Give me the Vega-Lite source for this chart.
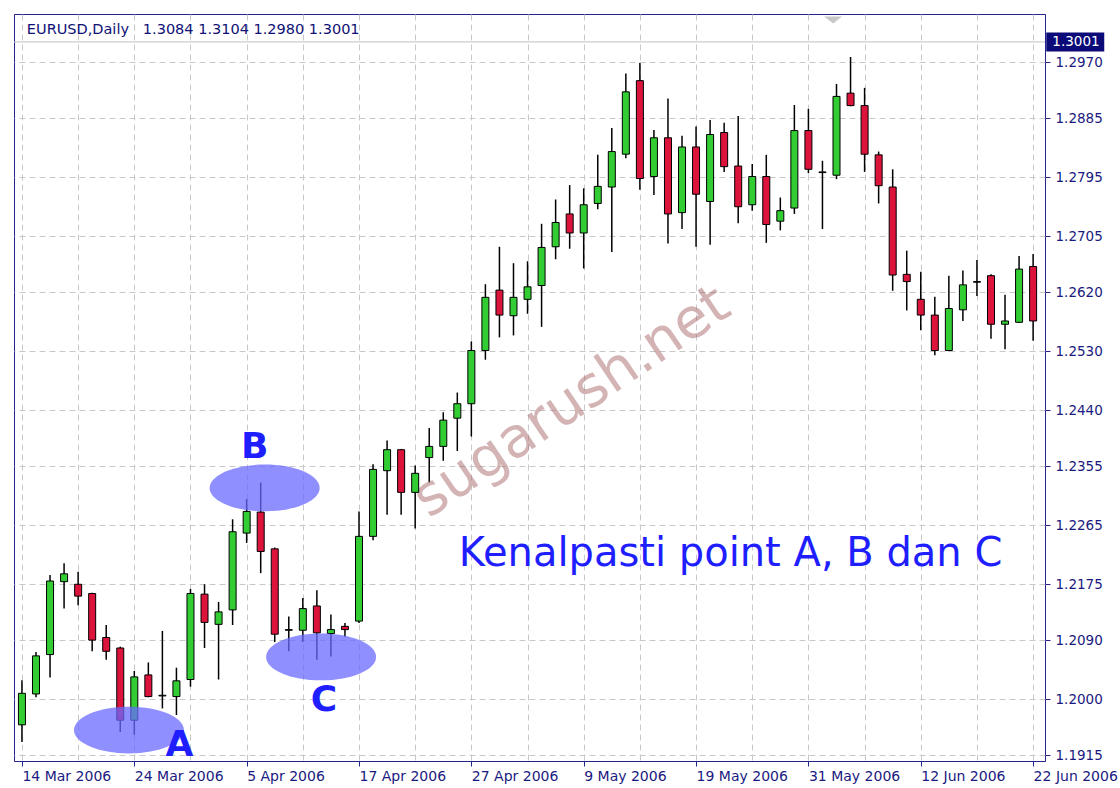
{
  "$schema": "https://vega.github.io/schema/vega-lite/v6.json",
  "width": 1031,
  "height": 747,
  "autosize": {"type": "none"},
  "padding": {"left": 14, "top": 14, "right": 75, "bottom": 27},
  "background": "#ffffff",
  "config": {
    "view": {"stroke": "#23238f", "strokeWidth": 1},
    "font": "DejaVu Sans"
  },
  "datasets": {
    "bars": [
      {"d": "2006-03-14", "i": 0, "o": 1.1961, "h": 1.2029, "l": 1.1935, "c": 1.2009},
      {"d": "2006-03-15", "i": 1, "o": 1.2008, "h": 1.2072, "l": 1.2003, "c": 1.2066},
      {"d": "2006-03-16", "i": 2, "o": 1.2068, "h": 1.2189, "l": 1.2033, "c": 1.2180},
      {"d": "2006-03-17", "i": 3, "o": 1.2179, "h": 1.2207, "l": 1.2138, "c": 1.2191},
      {"d": "2006-03-20", "i": 4, "o": 1.2175, "h": 1.2194, "l": 1.2143, "c": 1.2157},
      {"d": "2006-03-21", "i": 5, "o": 1.2161, "h": 1.2162, "l": 1.2073, "c": 1.2090},
      {"d": "2006-03-22", "i": 6, "o": 1.2094, "h": 1.2113, "l": 1.2060, "c": 1.2073},
      {"d": "2006-03-23", "i": 7, "o": 1.2078, "h": 1.2080, "l": 1.1950, "c": 1.1968},
      {"d": "2006-03-24", "i": 8, "o": 1.1968, "h": 1.2043, "l": 1.1946, "c": 1.2034},
      {"d": "2006-03-27", "i": 9, "o": 1.2037, "h": 1.2056, "l": 1.2003, "c": 1.2004},
      {"d": "2006-03-28", "i": 10, "o": 1.2005, "h": 1.2104, "l": 1.1986, "c": 1.2006},
      {"d": "2006-03-29", "i": 11, "o": 1.2004, "h": 1.2048, "l": 1.1976, "c": 1.2028},
      {"d": "2006-03-30", "i": 12, "o": 1.2030, "h": 1.2168, "l": 1.2019, "c": 1.2161},
      {"d": "2006-03-31", "i": 13, "o": 1.2160, "h": 1.2175, "l": 1.2078, "c": 1.2117},
      {"d": "2006-04-03", "i": 14, "o": 1.2114, "h": 1.2148, "l": 1.2030, "c": 1.2133},
      {"d": "2006-04-04", "i": 15, "o": 1.2136, "h": 1.2274, "l": 1.2113, "c": 1.2255},
      {"d": "2006-04-05", "i": 16, "o": 1.2253, "h": 1.2305, "l": 1.2238, "c": 1.2286},
      {"d": "2006-04-06", "i": 17, "o": 1.2285, "h": 1.2330, "l": 1.2192, "c": 1.2225},
      {"d": "2006-04-07", "i": 18, "o": 1.2229, "h": 1.2231, "l": 1.2087, "c": 1.2099},
      {"d": "2006-04-10", "i": 19, "o": 1.2105, "h": 1.2126, "l": 1.2073, "c": 1.2106},
      {"d": "2006-04-11", "i": 20, "o": 1.2105, "h": 1.2154, "l": 1.2087, "c": 1.2138},
      {"d": "2006-04-12", "i": 21, "o": 1.2142, "h": 1.2166, "l": 1.2060, "c": 1.2101},
      {"d": "2006-04-13", "i": 22, "o": 1.2100, "h": 1.2129, "l": 1.2065, "c": 1.2106},
      {"d": "2006-04-14", "i": 23, "o": 1.2111, "h": 1.2116, "l": 1.2095, "c": 1.2106},
      {"d": "2006-04-17", "i": 24, "o": 1.2119, "h": 1.2286, "l": 1.2116, "c": 1.2248},
      {"d": "2006-04-18", "i": 25, "o": 1.2248, "h": 1.2358, "l": 1.2242, "c": 1.2350},
      {"d": "2006-04-19", "i": 26, "o": 1.2348, "h": 1.2394, "l": 1.2281, "c": 1.2380},
      {"d": "2006-04-20", "i": 27, "o": 1.2380, "h": 1.2381, "l": 1.2281, "c": 1.2315},
      {"d": "2006-04-21", "i": 28, "o": 1.2315, "h": 1.2356, "l": 1.2260, "c": 1.2344},
      {"d": "2006-04-24", "i": 29, "o": 1.2368, "h": 1.2413, "l": 1.2330, "c": 1.2385},
      {"d": "2006-04-25", "i": 30, "o": 1.2385, "h": 1.2437, "l": 1.2363, "c": 1.2425},
      {"d": "2006-04-26", "i": 31, "o": 1.2428, "h": 1.2467, "l": 1.2378, "c": 1.2450},
      {"d": "2006-04-27", "i": 32, "o": 1.2450, "h": 1.2545, "l": 1.2400, "c": 1.2531},
      {"d": "2006-04-28", "i": 33, "o": 1.2531, "h": 1.2632, "l": 1.2517, "c": 1.2612},
      {"d": "2006-05-01", "i": 34, "o": 1.2623, "h": 1.2689, "l": 1.2551, "c": 1.2585},
      {"d": "2006-05-02", "i": 35, "o": 1.2584, "h": 1.2664, "l": 1.2554, "c": 1.2612},
      {"d": "2006-05-03", "i": 36, "o": 1.2609, "h": 1.2667, "l": 1.2587, "c": 1.2628},
      {"d": "2006-05-04", "i": 37, "o": 1.2630, "h": 1.2724, "l": 1.2567, "c": 1.2688},
      {"d": "2006-05-05", "i": 38, "o": 1.2689, "h": 1.2761, "l": 1.2670, "c": 1.2726},
      {"d": "2006-05-08", "i": 39, "o": 1.2739, "h": 1.2783, "l": 1.2686, "c": 1.2710},
      {"d": "2006-05-09", "i": 40, "o": 1.2710, "h": 1.2778, "l": 1.2656, "c": 1.2753},
      {"d": "2006-05-10", "i": 41, "o": 1.2755, "h": 1.2829, "l": 1.2746, "c": 1.2781},
      {"d": "2006-05-11", "i": 42, "o": 1.2780, "h": 1.2870, "l": 1.2681, "c": 1.2834},
      {"d": "2006-05-12", "i": 43, "o": 1.2830, "h": 1.2953, "l": 1.2824, "c": 1.2925},
      {"d": "2006-05-15", "i": 44, "o": 1.2942, "h": 1.2969, "l": 1.2776, "c": 1.2793},
      {"d": "2006-05-16", "i": 45, "o": 1.2796, "h": 1.2867, "l": 1.2768, "c": 1.2855},
      {"d": "2006-05-17", "i": 46, "o": 1.2855, "h": 1.2915, "l": 1.2694, "c": 1.2739},
      {"d": "2006-05-18", "i": 47, "o": 1.2741, "h": 1.2858, "l": 1.2716, "c": 1.2841},
      {"d": "2006-05-19", "i": 48, "o": 1.2841, "h": 1.2872, "l": 1.2689, "c": 1.2769},
      {"d": "2006-05-22", "i": 49, "o": 1.2758, "h": 1.2882, "l": 1.2692, "c": 1.2860},
      {"d": "2006-05-23", "i": 50, "o": 1.2863, "h": 1.2878, "l": 1.2803, "c": 1.2811},
      {"d": "2006-05-24", "i": 51, "o": 1.2812, "h": 1.2888, "l": 1.2725, "c": 1.2750},
      {"d": "2006-05-25", "i": 52, "o": 1.2753, "h": 1.2815, "l": 1.2744, "c": 1.2796},
      {"d": "2006-05-26", "i": 53, "o": 1.2796, "h": 1.2829, "l": 1.2695, "c": 1.2723},
      {"d": "2006-05-29", "i": 54, "o": 1.2728, "h": 1.2764, "l": 1.2714, "c": 1.2744},
      {"d": "2006-05-30", "i": 55, "o": 1.2748, "h": 1.2905, "l": 1.2739, "c": 1.2866},
      {"d": "2006-05-31", "i": 56, "o": 1.2866, "h": 1.2899, "l": 1.2801, "c": 1.2807},
      {"d": "2006-06-01", "i": 57, "o": 1.2802, "h": 1.2820, "l": 1.2716, "c": 1.2803},
      {"d": "2006-06-02", "i": 58, "o": 1.2798, "h": 1.2937, "l": 1.2792, "c": 1.2918},
      {"d": "2006-06-05", "i": 59, "o": 1.2923, "h": 1.2978, "l": 1.2903, "c": 1.2904},
      {"d": "2006-06-06", "i": 60, "o": 1.2904, "h": 1.2931, "l": 1.2803, "c": 1.2830},
      {"d": "2006-06-07", "i": 61, "o": 1.2829, "h": 1.2834, "l": 1.2755, "c": 1.2782},
      {"d": "2006-06-08", "i": 62, "o": 1.2780, "h": 1.2807, "l": 1.2622, "c": 1.2646},
      {"d": "2006-06-09", "i": 63, "o": 1.2647, "h": 1.2683, "l": 1.2592, "c": 1.2636},
      {"d": "2006-06-12", "i": 64, "o": 1.2609, "h": 1.2651, "l": 1.2562, "c": 1.2585},
      {"d": "2006-06-13", "i": 65, "o": 1.2585, "h": 1.2613, "l": 1.2524, "c": 1.2531},
      {"d": "2006-06-14", "i": 66, "o": 1.2531, "h": 1.2645, "l": 1.2530, "c": 1.2595},
      {"d": "2006-06-15", "i": 67, "o": 1.2593, "h": 1.2653, "l": 1.2576, "c": 1.2631},
      {"d": "2006-06-16", "i": 68, "o": 1.2635, "h": 1.2669, "l": 1.2614, "c": 1.2636},
      {"d": "2006-06-19", "i": 69, "o": 1.2645, "h": 1.2647, "l": 1.2549, "c": 1.2571},
      {"d": "2006-06-20", "i": 70, "o": 1.2571, "h": 1.2616, "l": 1.2533, "c": 1.2576},
      {"d": "2006-06-21", "i": 71, "o": 1.2574, "h": 1.2675, "l": 1.2573, "c": 1.2655},
      {"d": "2006-06-22", "i": 72, "o": 1.2659, "h": 1.2678, "l": 1.2546, "c": 1.2576}
    ]
  },
  "layer": [
    {
      "data": {"name": "bars"},
      "mark": {"type": "rule", "color": "#000000", "strokeWidth": 1.5, "clip": true},
      "encoding": {
        "x": {
          "field": "i", "type": "quantitative",
          "scale": {"domain": [-0.21, 72.49], "nice": false, "zero": false},
          "axis": {
            "orient": "bottom", "title": null,
            "values": [0, 4, 8, 12, 16, 20, 24, 28, 32, 36, 40, 44, 48, 52, 56, 60, 64, 68, 72],
            "grid": true, "gridColor": "#c8c8c8", "gridDash": [6, 4], "gridWidth": 1,
            "domain": false,
            "tickColor": "#23238f", "tickSize": 5, "tickWidth": 1,
            "tickOpacity": {"condition": {"test": "datum.value % 8 === 0", "value": 1}, "value": 0},
            "labelExpr": "datum.value % 8 === 0 ? ['14 Mar 2006','24 Mar 2006','5 Apr 2006','17 Apr 2006','27 Apr 2006','9 May 2006','19 May 2006','31 May 2006','12 Jun 2006','22 Jun 2006'][datum.value / 8] : ''",
            "labelAlign": "left", "labelBaseline": "top", "labelPadding": 3, "labelDx": -3,
            "labelFont": "DejaVu Sans", "labelFontSize": 14, "labelColor": "#1a1a80",
            "labelOverlap": false, "labelBound": false, "labelFlush": false
          }
        },
        "y": {
          "field": "l", "type": "quantitative",
          "scale": {"domain": [1.19059, 1.30435], "nice": false, "zero": false},
          "axis": {
            "orient": "right", "title": null,
            "values": [1.1915, 1.2, 1.209, 1.2175, 1.2265, 1.2355, 1.244, 1.253, 1.262, 1.2705, 1.2795, 1.2885, 1.297],
            "format": ".4f",
            "grid": true, "gridColor": "#c8c8c8", "gridDash": [6, 4], "gridWidth": 1,
            "domain": false,
            "tickColor": "#23238f", "tickSize": 5, "tickWidth": 1,
            "labelAlign": "left", "labelBaseline": "middle", "labelPadding": 5,
            "labelFont": "DejaVu Sans", "labelFontSize": 13.5, "labelColor": "#1a1a80",
            "labelOverlap": false, "labelBound": false, "labelFlush": false
          }
        },
        "y2": {"field": "h"}
      }
    },
    {
      "data": {"values": [{}]},
      "mark": {"type": "text", "text": "sugarush.net", "font": "DejaVu Sans", "fontSize": 56, "angle": -34, "align": "center", "baseline": "middle", "color": "#a86a6a", "opacity": 0.5},
      "encoding": {
        "x": {"datum": 39.14, "type": "quantitative"},
        "y": {"datum": 1.24526, "type": "quantitative"}
      }
    },
    {
      "data": {"values": [{}]},
      "mark": {"type": "rule", "color": "#c0c0c0", "strokeWidth": 1},
      "encoding": {
        "y": {"datum": 1.3001, "type": "quantitative"}
      }
    },
    {
      "data": {"name": "bars"},
      "mark": {"type": "bar", "width": 7, "stroke": "#000000", "strokeWidth": 1, "clip": true},
      "encoding": {
        "x": {"field": "i", "type": "quantitative"},
        "y": {"field": "o", "type": "quantitative"},
        "y2": {"field": "c"},
        "fill": {"condition": {"test": "datum.c >= datum.o", "value": "#32cd32"}, "value": "#dc143c"}
      }
    },
    {
      "data": {"values": [{}]},
      "mark": {"type": "point", "shape": "M-1,0 A1,0.425 0 1,1 1,0 A1,0.425 0 1,1 -1,0 Z", "size": 12100, "filled": true, "color": "#6a6aff", "opacity": 0.75, "strokeWidth": 0},
      "encoding": {
        "x": {"datum": 7.62, "type": "quantitative"},
        "y": {"datum": 1.19531, "type": "quantitative"}
      }
    },
    {
      "data": {"values": [{}]},
      "mark": {"type": "point", "shape": "M-1,0 A1,0.425 0 1,1 1,0 A1,0.425 0 1,1 -1,0 Z", "size": 12100, "filled": true, "color": "#6a6aff", "opacity": 0.75, "strokeWidth": 0},
      "encoding": {
        "x": {"datum": 17.28, "type": "quantitative"},
        "y": {"datum": 1.23217, "type": "quantitative"}
      }
    },
    {
      "data": {"values": [{}]},
      "mark": {"type": "point", "shape": "M-1,0 A1,0.425 0 1,1 1,0 A1,0.425 0 1,1 -1,0 Z", "size": 12100, "filled": true, "color": "#6a6aff", "opacity": 0.75, "strokeWidth": 0},
      "encoding": {
        "x": {"datum": 21.3, "type": "quantitative"},
        "y": {"datum": 1.20643, "type": "quantitative"}
      }
    },
    {
      "data": {"values": [{}]},
      "mark": {"type": "text", "text": "A", "font": "DejaVu Sans", "fontSize": 36, "fontWeight": "bold", "align": "center", "baseline": "middle", "color": "#1e1eff"},
      "encoding": {
        "x": {"datum": 11.21, "type": "quantitative"},
        "y": {"datum": 1.19302, "type": "quantitative"}
      }
    },
    {
      "data": {"values": [{}]},
      "mark": {"type": "text", "text": "B", "font": "DejaVu Sans", "fontSize": 36, "fontWeight": "bold", "align": "center", "baseline": "middle", "color": "#1e1eff"},
      "encoding": {
        "x": {"datum": 16.57, "type": "quantitative"},
        "y": {"datum": 1.23841, "type": "quantitative"}
      }
    },
    {
      "data": {"values": [{}]},
      "mark": {"type": "text", "text": "C", "font": "DejaVu Sans", "fontSize": 36, "fontWeight": "bold", "align": "center", "baseline": "middle", "color": "#1e1eff"},
      "encoding": {
        "x": {"datum": 21.51, "type": "quantitative"},
        "y": {"datum": 1.19988, "type": "quantitative"}
      }
    },
    {
      "data": {"values": [{}]},
      "mark": {"type": "text", "text": "Kenalpasti point A, B dan C", "font": "DejaVu Sans", "fontSize": 40, "align": "left", "baseline": "alphabetic", "color": "#1e1eff"},
      "encoding": {
        "x": {"datum": 31.1, "type": "quantitative"},
        "y": {"datum": 1.22028, "type": "quantitative"}
      }
    },
    {
      "data": {"values": [{}]},
      "mark": {"type": "text", "text": "EURUSD,Daily\u00a0\u00a0\u00a01.3084 1.3104 1.2980 1.3001", "font": "DejaVu Sans", "fontSize": 14.5, "align": "left", "baseline": "middle", "color": "#101075"},
      "encoding": {
        "x": {"datum": 0.35, "type": "quantitative"},
        "y": {"datum": 1.30184, "type": "quantitative"}
      }
    },
    {
      "data": {"values": [{}]},
      "mark": {"type": "point", "shape": "M-1,-0.39 L1,-0.39 L0,0.39 Z", "size": 324, "filled": true, "color": "#c8c8c8", "opacity": 1, "strokeWidth": 0},
      "encoding": {
        "x": {"datum": 57.76, "type": "quantitative"},
        "y": {"datum": 1.30344, "type": "quantitative"}
      }
    },
    {
      "data": {"values": [{}]},
      "mark": {"type": "point", "shape": "M-1,-0.328 L1,-0.328 L1,0.328 L-1,0.328 Z", "size": 3364, "filled": true, "color": "#0a0a78", "opacity": 1, "strokeWidth": 0},
      "encoding": {
        "x": {"datum": 75.0, "type": "quantitative"},
        "y": {"datum": 1.3001, "type": "quantitative"}
      }
    },
    {
      "data": {"values": [{}]},
      "mark": {"type": "text", "text": "1.3001", "font": "DejaVu Sans", "fontSize": 13.5, "align": "center", "baseline": "middle", "color": "#ffffff"},
      "encoding": {
        "x": {"datum": 75.05, "type": "quantitative"},
        "y": {"datum": 1.3001, "type": "quantitative"}
      }
    }
  ]
}
